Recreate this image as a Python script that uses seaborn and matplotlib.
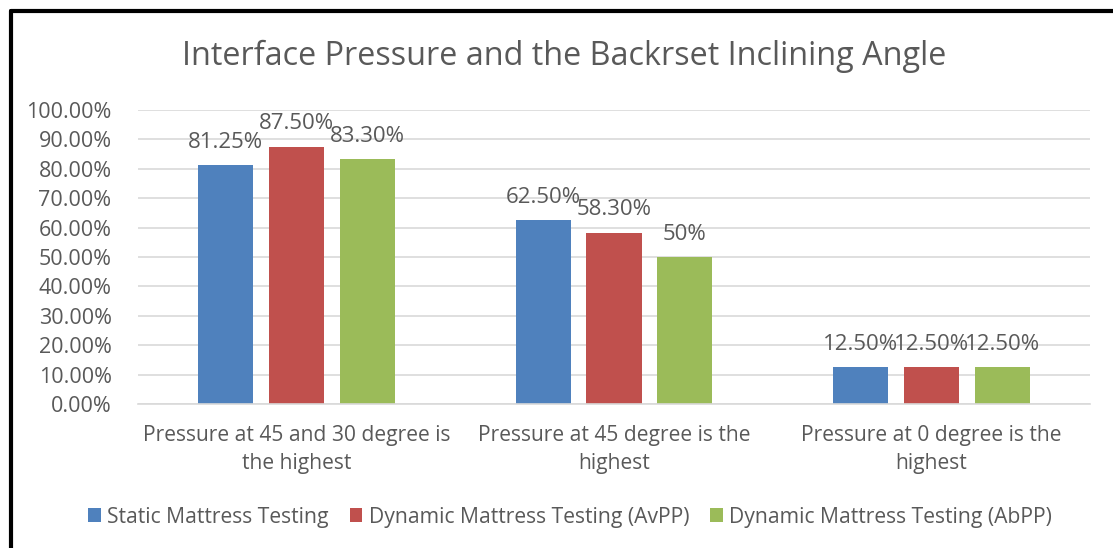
import matplotlib
matplotlib.use("Agg")
import matplotlib.pyplot as plt
import seaborn as sns
import pandas as pd
from matplotlib.ticker import FuncFormatter

categories = ["Pressure at 45 and 30 degree is\nthe highest",
              "Pressure at 45 degree is the\nhighest",
              "Pressure at 0 degree is the\nhighest"]
series = ["Static Mattress Testing",
          "Dynamic Mattress Testing (AvPP)",
          "Dynamic Mattress Testing (AbPP)"]
static_vals = [81.25, 62.50, 12.50]
avpp_vals = [87.50, 58.30, 12.50]
abpp_vals = [83.30, 50.00, 12.50]
label_texts = [["81.25%", "62.50%", "12.50%"],
               ["87.50%", "58.30%", "12.50%"],
               ["83.30%", "50%", "12.50%"]]
colors = ["#4F81BD", "#C0504D", "#9BBB59"]

rows = []
for s, vals in zip(series, [static_vals, avpp_vals, abpp_vals]):
    for c, v in zip(categories, vals):
        rows.append({"category": c, "series": s, "value": v})
df = pd.DataFrame(rows)

sns.set_theme(style="white")
plt.rcParams['font.family'] = ['Open Sans', 'DejaVu Sans']
txt = "#595959"

fig = plt.figure(figsize=(11.13, 5.48), dpi=100)
ax = fig.add_axes([138/1113, 1-404/548, (1090-138)/1113, (404-110)/548])

sns.barplot(data=df, x="category", y="value", hue="series", order=categories,
            hue_order=series, palette=colors, width=0.671, gap=0.225,
            saturation=1, ax=ax, legend=True, edgecolor="none")

ax.set_ylim(0, 100)
ax.set_yticks(range(0, 101, 10))
ax.yaxis.set_major_formatter(FuncFormatter(lambda v, p: f"{v:.2f}%"))
ax.grid(axis="y", color="#D9D9D9", linewidth=1.2)
ax.set_axisbelow(True)
for sp in ["top", "right", "left"]:
    ax.spines[sp].set_visible(False)
ax.spines["bottom"].set_color("#D9D9D9")
ax.spines["bottom"].set_linewidth(1.2)
ax.tick_params(axis="y", length=0, labelsize=15.5, colors=txt, pad=19)
ax.tick_params(axis="x", length=0, labelsize=15.1, colors=txt, pad=15)
for lab in ax.get_xticklabels():
    lab.set_linespacing(1.42)
ax.set_xlabel("")
ax.set_ylabel("")

for cont, labs in zip(ax.containers, label_texts):
    ax.bar_label(cont, labels=labs, padding=9, fontsize=16, color=txt)

handles, labels = ax.get_legend_handles_labels()
ax.legend(handles, labels, loc="center", bbox_to_anchor=(570/1113, 1-517/548),
          bbox_transform=fig.transFigure, ncol=3, frameon=False, fontsize=15.2,
          labelcolor=txt, handlelength=0.6, handleheight=0.6, handletextpad=0.3,
          columnspacing=1.0)

fig.text(564/1113, 1-56/548, "Interface Pressure and the Backrset Inclining Angle",
         ha="center", va="center", fontsize=23.3, color=txt)

# image frame (top and left edges)
fig.add_artist(plt.Line2D([11/1113, 1], [1-11/548, 1-11/548], transform=fig.transFigure,
                          color="black", linewidth=3))
fig.add_artist(plt.Line2D([11/1113, 11/1113], [0, 1-11/548], transform=fig.transFigure,
                          color="black", linewidth=3))

fig.savefig("out.png", dpi=100)
